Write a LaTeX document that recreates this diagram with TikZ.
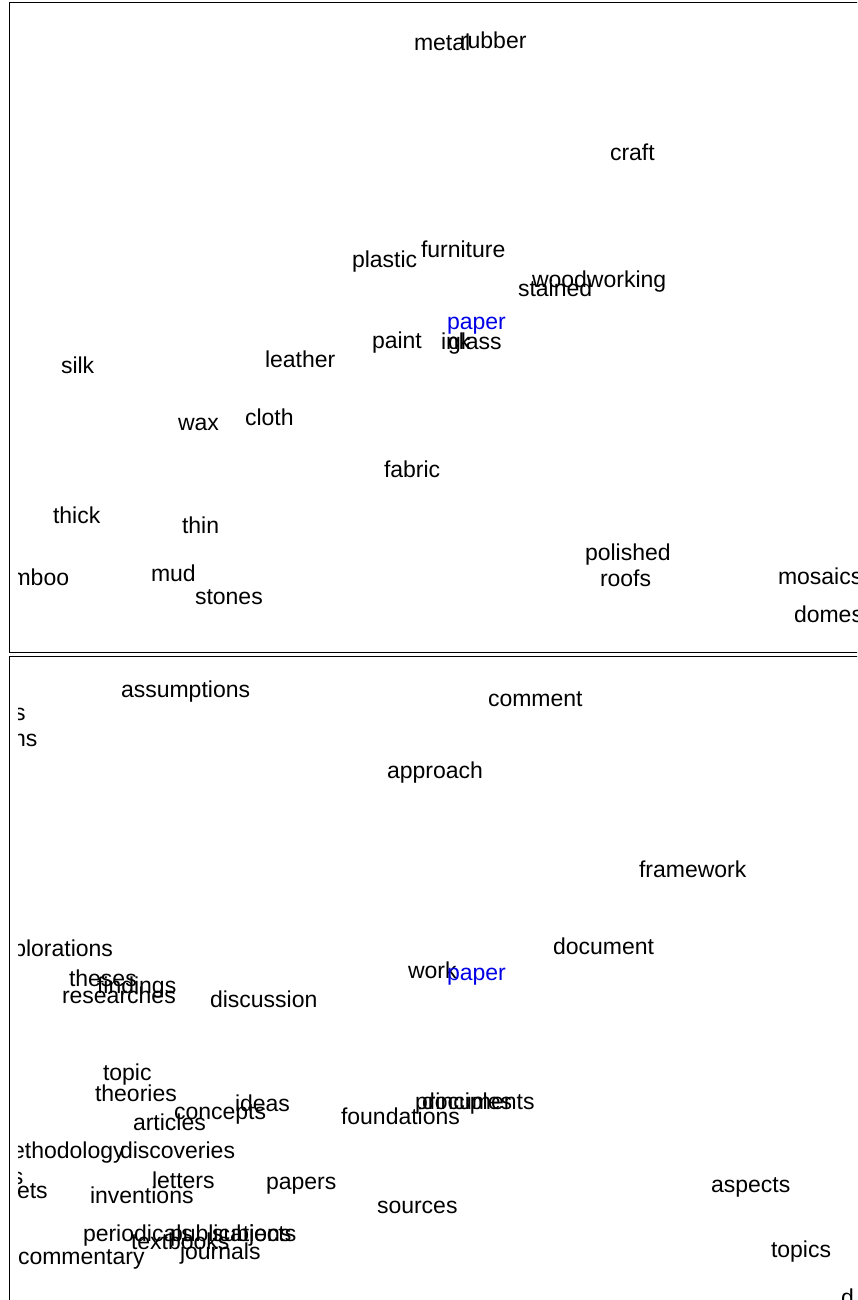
\documentclass[tikz,border=0pt]{standalone}
\usepackage{fontspec}
\setmainfont{Liberation Sans}
\begin{document}
\begin{tikzpicture}[x=1pt,y=-1pt,
  wd/.style={anchor=base west, inner sep=0pt, outer sep=0pt, font=\fontsize{23}{27}\selectfont, text=black},
  hl/.style={wd, text={rgb,255:red,0;green,0;blue,230}},
  frame/.style={draw=black, line width=1pt}]
\useasboundingbox (0,0) rectangle (857,1300);
\clip (0,0) rectangle (857,1300);
\fill[white] (0,0) rectangle (857,1300);
% frames
\draw[frame] (880,3) -- (9,3) -- (9,652) -- (880,652);
\draw[frame] (880,656) -- (9,656) -- (9,1320);
% top panel words
\begin{scope}[yshift=-2pt]
\clip (18,1) rectangle (857,650);
\node[wd] (metal) at (414,49) {metal};
\node[wd] (rubber) at (460,47) {rubber};
\node[wd] (craft) at (610,159) {craft};
\node[wd] (plastic) at (352,265) {plastic};
\node[wd] (furniture) at (421,255) {furniture};
\node[wd] (woodworking) at (532,285) {woodworking};
\node[wd] (stained) at (518,294) {stained};
\node[hl] (paperA) at (447,327) {paper};
\node[wd] (paint) at (372,346) {paint};
\node[wd] (ink) at (441,347) {ink};
\node[wd] (glass) at (448,347) {glass};
\node[wd] (silk) at (61,371) {silk};
\node[wd] (leather) at (265,365) {leather};
\node[wd] (wax) at (178,428) {wax};
\node[wd] (cloth) at (245,423) {cloth};
\node[wd] (fabric) at (384,475) {fabric};
\node[wd] (thick) at (53,521) {thick};
\node[wd] (thin) at (182,531) {thin};
\node[wd] (polished) at (585,558) {polished};
\node[wd] (roofs) at (600,584) {roofs};
\node[wd] (bamboo) at (-14,583) {bamboo};
\node[wd] (mud) at (151,579) {mud};
\node[wd] (stones) at (195,602) {stones};
\node[wd] (mosaics) at (778,582) {mosaics};
\node[wd] (domes) at (794,620) {domes};
\end{scope}
% bottom panel words
\begin{scope}[yshift=-1pt]
\clip (18,655) rectangle (857,1299);
\node[wd] (assumptions) at (121,696) {assumptions};
\node[wd] (sA) at (14,719) {s};
\node[wd] (ns) at (13,745) {ns};
\node[wd] (comment) at (488,705) {comment};
\node[wd] (approach) at (387,777) {approach};
\node[wd] (framework) at (639,876) {framework};
\node[wd] (explorations) at (-11,955) {explorations};
\node[wd] (document) at (553,953) {document};
\node[wd] (work) at (408,977) {work};
\node[hl] (paperB) at (447,979) {paper};
\node[wd] (theses) at (69,985) {theses};
\node[wd] (findings) at (97,992) {findings};
\node[wd] (researches) at (62,1002) {researches};
\node[wd] (discussion) at (210,1006) {discussion};
\node[wd] (topic) at (103,1079) {topic};
\node[wd] (theories) at (95,1100) {theories};
\node[wd] (ideas) at (235,1110) {ideas};
\node[wd] (concepts) at (174,1118) {concepts};
\node[wd] (articles) at (133,1129) {articles};
\node[wd] (foundations) at (341,1123) {foundations};
\node[wd] (principles) at (415,1108) {principles};
\node[wd] (documents) at (422,1108) {documents};
\node[wd] (methodology) at (-7,1157) {methodology};
\node[wd] (discoveries) at (120,1157) {discoveries};
\node[wd] (sB) at (12,1183) {s};
\node[wd] (ets) at (17,1197) {ets};
\node[wd] (letters) at (152,1187) {letters};
\node[wd] (inventions) at (90,1202) {inventions};
\node[wd] (papers) at (266,1188) {papers};
\node[wd] (sources) at (377,1212) {sources};
\node[wd] (aspects) at (711,1191) {aspects};
\node[wd] (periodicals) at (83,1240) {periodicals};
\node[wd] (publications) at (170,1240) {publications};
\node[wd] (subjects) at (212,1240) {subjects};
\node[wd] (textbooks) at (131,1248) {textbooks};
\node[wd] (journals) at (180,1258) {journals};
\node[wd] (commentary) at (18,1263) {commentary};
\node[wd] (topics) at (771,1256) {topics};
\node[wd] (dd) at (841,1304) {d};
\end{scope}
\end{tikzpicture}
\end{document}
